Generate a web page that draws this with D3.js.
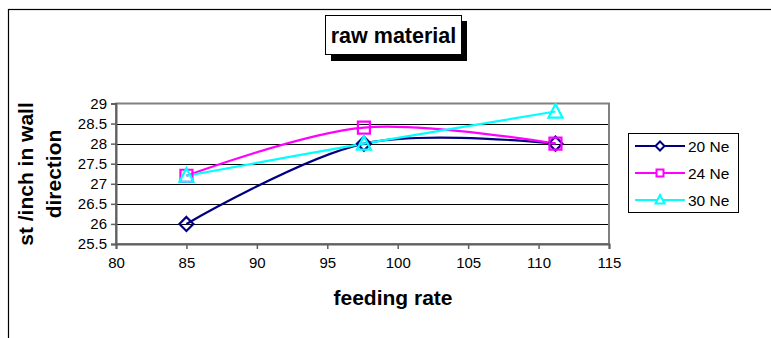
<!DOCTYPE html>
<html><head><meta charset="utf-8">
<script src="https://cdn.jsdelivr.net/npm/d3@7"></script>
<style>
html,body{margin:0;padding:0;background:#fff;}
svg{display:block;font-family:Arial,"Liberation Sans",sans-serif;}
</style></head>
<body><svg id="c" width="771" height="338"></svg>
<script>
const feedingRate = [85, 97.6, 111.2];
const ne20 = [26, 28, 28];
const ne24 = [27.2, 28.4, 28];
const ne30 = [27.2, 28, 28.8];
const seriesNames = ["20 Ne", "24 Ne", "30 Ne"];
const seriesColors = ["#000080", "#FF00FF", "#00FFFF"];
const seriesMarkers = ["diamond", "square", "triangle"];
const xTicks = [80, 85, 90, 95, 100, 105, 110, 115];
const yTicks = [25.5, 26, 26.5, 27, 27.5, 28, 28.5, 29];

const svg = d3.select("#c");
const L = 116, R = 609, T = 103.5, B = 244;
const x = d3.scaleLinear().domain([80, 115]).range([L, R]);
const y = d3.scaleLinear().domain([25.5, 29]).range([B, T]);

// outer frame
svg.append("rect").attr("x", 8.5).attr("y", 9.5).attr("width", 900).attr("height", 500)
  .attr("fill", "none").attr("stroke", "#000").attr("stroke-width", 1.2);

// title box with shadow
svg.append("rect").attr("x", 331).attr("y", 21).attr("width", 136).attr("height", 40).attr("fill", "#000");
svg.append("rect").attr("x", 325.5).attr("y", 15.5).attr("width", 136).attr("height", 39)
  .attr("fill", "#fff").attr("stroke", "#000").attr("stroke-width", 1);
svg.append("text").attr("x", 393.5).attr("y", 43).attr("text-anchor", "middle")
  .attr("font-size", 21.5).attr("font-weight", "bold").text("raw material");

// gridlines
svg.append("g").selectAll("line").data(yTicks.slice(1, -1)).join("line")
  .attr("x1", L).attr("x2", R).attr("y1", d => Math.round(y(d)) + 0.5).attr("y2", d => Math.round(y(d)) + 0.5)
  .attr("stroke", "#000").attr("stroke-width", 1);

// plot border
svg.append("rect").attr("x", L).attr("y", T).attr("width", R - L).attr("height", B - T)
  .attr("fill", "none").attr("stroke", "#808080").attr("stroke-width", 2);

// axes
const yAxis = d3.axisLeft(y).tickValues(yTicks).tickSize(5).tickPadding(4).tickFormat(d3.format("~g"));
const xAxis = d3.axisBottom(x).tickValues(xTicks).tickSize(5).tickPadding(8).tickFormat(d3.format("d"));
const gy = svg.append("g").attr("transform", `translate(${L},0)`).call(yAxis);
const gx = svg.append("g").attr("transform", `translate(0,${B})`).call(xAxis);
[gx, gy].forEach(g => {
  g.select(".domain").attr("stroke", "#606060").attr("stroke-width", 2);
  g.selectAll(".tick line").attr("stroke", "#606060").attr("stroke-width", 1.5);
  g.selectAll(".tick text").attr("font-size", 15).attr("fill", "#000")
    .attr("font-family", "Arial, 'Liberation Sans', sans-serif");
});

// axis titles
svg.append("text").attr("x", 393).attr("y", 305).attr("text-anchor", "middle")
  .attr("font-size", 21).attr("font-weight", "bold").text("feeding rate");
const yt = svg.append("text").attr("transform", "translate(0,174) rotate(-90)")
  .attr("text-anchor", "middle").attr("font-size", 21).attr("font-weight", "bold");
yt.append("tspan").attr("x", 0).attr("y", 33).text("st /inch in wall");
yt.append("tspan").attr("x", 0).attr("y", 61).text("direction");

// series
const seriesData = [ne20, ne24, ne30];
const line = d3.line().x(d => x(d[0])).y(d => y(d[1])).curve(d3.curveCardinal.tension(0));
function markerPath(type, cx, cy, s) {
  if (type === "diamond") return `M${cx},${cy - s - 1}L${cx + s + 1},${cy}L${cx},${cy + s + 1}L${cx - s - 1},${cy}Z`;
  if (type === "square") return `M${cx - s},${cy - s}h${2 * s}v${2 * s}h${-2 * s}Z`;
  return `M${cx},${cy - s - 1.5}L${cx + s + 1},${cy + s}L${cx - s - 1},${cy + s}Z`;
}
seriesData.forEach((vals, i) => {
  const pts = feedingRate.map((f, j) => [f, vals[j]]);
  svg.append("path").attr("d", line(pts)).attr("fill", "none")
    .attr("stroke", seriesColors[i]).attr("stroke-width", 2.2);
});
seriesData.forEach((vals, i) => {
  const g = svg.append("g");
  feedingRate.forEach((f, j) => g.append("path")
    .attr("d", markerPath(seriesMarkers[i], x(f), y(vals[j]), 6))
    .attr("fill", "none").attr("stroke", seriesColors[i]).attr("stroke-width", 2.2));
});

// legend
const lg = svg.append("g");
lg.append("rect").attr("x", 628.5).attr("y", 133.5).attr("width", 110).attr("height", 79)
  .attr("fill", "#fff").attr("stroke", "#000").attr("stroke-width", 1);
seriesNames.forEach((n, i) => {
  const ly = 146 + i * 27;
  lg.append("line").attr("x1", 635).attr("x2", 685).attr("y1", ly).attr("y2", ly)
    .attr("stroke", seriesColors[i]).attr("stroke-width", 2.2);
  lg.append("path").attr("d", markerPath(seriesMarkers[i], 660, ly, 3.5))
    .attr("fill", "#fff").attr("stroke", seriesColors[i]).attr("stroke-width", 2);
  lg.append("text").attr("x", 688).attr("y", ly + 5.5).attr("font-size", 15.5).text(n);
});
</script></body></html>
